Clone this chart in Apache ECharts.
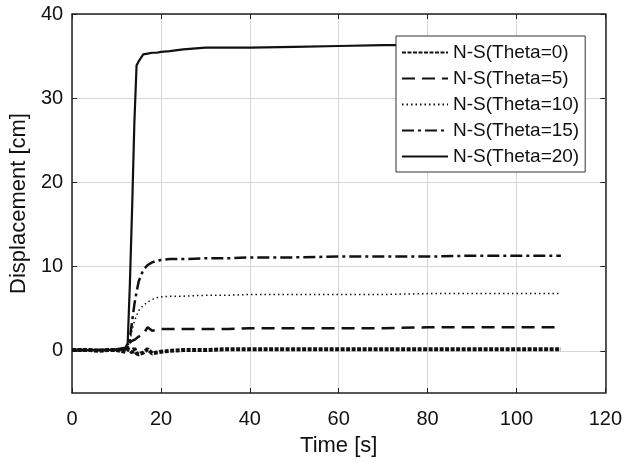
<!DOCTYPE html>
<html>
<head>
<meta charset="utf-8">
<script src="https://cdn.jsdelivr.net/npm/echarts@6/dist/echarts.min.js"></script>
<style>
html, body { margin: 0; padding: 0; background: #fff; }
#chart { width: 625px; height: 463px; }
</style>
</head>
<body>
<div id="chart"></div>
<script>
// time samples [s]
var time = [0, 2, 4, 6, 8, 10, 11, 12, 12.5, 13, 13.5, 14, 14.5, 15, 16, 17, 18, 19, 20, 22, 25, 30, 35, 40, 50, 60, 70, 80, 90, 100, 110];

// displacement [cm] per case
var theta0  = [0.1, 0.1, 0.1, 0.0, 0.1, 0.1, 0.0, -0.1, 0.2, 0.1, -0.2, 0.3, -0.3, -0.4, -0.2, 0.2, -0.3, -0.2, -0.1, 0.0, 0.1, 0.1, 0.2, 0.2, 0.2, 0.2, 0.2, 0.2, 0.2, 0.2, 0.2];
var theta5  = [0.1, 0.1, 0.1, 0.1, 0.1, 0.1, 0.2, 0.3, 0.6, 1.0, 1.2, 1.3, 1.5, 1.7, 2.0, 2.8, 2.4, 2.5, 2.6, 2.6, 2.6, 2.6, 2.6, 2.7, 2.7, 2.7, 2.7, 2.8, 2.8, 2.8, 2.8];
var theta10 = [0.1, 0.1, 0.1, 0.1, 0.1, 0.1, 0.1, 0.2, 0.5, 1.2, 2.5, 3.5, 4.2, 4.8, 5.4, 5.8, 6.1, 6.3, 6.4, 6.5, 6.5, 6.6, 6.6, 6.7, 6.7, 6.7, 6.7, 6.8, 6.8, 6.8, 6.8];
var theta15 = [0.1, 0.1, 0.1, 0.1, 0.1, 0.1, 0.1, 0.2, 0.4, 1.5, 3.5, 5.5, 7.0, 8.3, 9.6, 10.2, 10.5, 10.7, 10.8, 10.9, 10.9, 11.0, 11.0, 11.1, 11.1, 11.2, 11.2, 11.2, 11.3, 11.3, 11.3];
var theta20 = [0.1, 0.1, 0.1, 0.1, 0.1, 0.2, 0.3, 0.4, 0.9, 8.0, 17.0, 27.0, 33.9, 34.4, 35.2, 35.3, 35.4, 35.4, 35.5, 35.6, 35.8, 36.0, 36.0, 36.0, 36.1, 36.2, 36.3, 36.3, 36.3, 36.3, 36.3];

var names = ['N-S(Theta=0)', 'N-S(Theta=5)', 'N-S(Theta=10)', 'N-S(Theta=15)', 'N-S(Theta=20)'];
var yTicks = [0, 10, 20, 30, 40];

var font = 'Liberation Sans, Arial, Helvetica, sans-serif';
var ink = '#111';

function pairs(ys) {
    var out = [];
    for (var i = 0; i < time.length; i++) out.push([time[i], ys[i]]);
    return out;
}

function makeSeries(name, ys, width, dash) {
    return {
        name: name,
        type: 'line',
        data: pairs(ys),
        symbol: 'none',
        showSymbol: false,
        animation: false,
        lineStyle: { color: ink, width: width, type: dash },
        itemStyle: { color: ink }
    };
}

var myChart = echarts.init(document.getElementById('chart'));

var option = {
    backgroundColor: '#fff',
    animation: false,
    grid: { left: 69, right: 18, top: 14, bottom: 70 },
    legend: {
        data: names,
        orient: 'vertical',
        left: 396,
        top: 36,
        padding: [7, 6, 6, 5],
        itemWidth: 46,
        itemHeight: 14,
        itemGap: 7,
        itemStyle: { opacity: 0 },   // hide the marker, keep the line sample
        backgroundColor: '#fff',
        borderColor: '#333',
        borderWidth: 1,
        textStyle: { fontFamily: font, fontSize: 19, color: ink }
    },
    xAxis: [{
        type: 'value',
        min: 0, max: 120, interval: 20,
        name: 'Time [s]',
        nameLocation: 'middle',
        nameGap: 42,
        nameTextStyle: { fontFamily: font, fontSize: 22, color: ink },
        axisLine: { onZero: false, lineStyle: { color: '#222', width: 1.5 } },
        axisTick: { inside: true, length: 5, lineStyle: { color: '#222' } },
        axisLabel: { fontFamily: font, fontSize: 20, color: ink, margin: 16 },
        splitLine: { show: true, lineStyle: { color: '#d6d6d6', width: 1 } }
    }, {
        type: 'value', position: 'top',
        min: 0, max: 120, interval: 20,
        axisLine: { show: true, onZero: false, lineStyle: { color: '#222', width: 1.5 } },
        axisTick: { inside: true, length: 5, lineStyle: { color: '#222' } },
        axisLabel: { show: false },
        splitLine: { show: false }
    }],
    yAxis: [{
        type: 'value',
        min: -5, max: 40, interval: 5,
        name: 'Displacement [cm]',
        nameLocation: 'middle',
        nameGap: 42,
        nameTextStyle: { fontFamily: font, fontSize: 22, color: ink },
        axisLine: { show: true, onZero: false, lineStyle: { color: '#222', width: 1.5 } },
        axisTick: { show: true, inside: true, length: 5, customValues: yTicks, lineStyle: { color: '#222' } },
        axisLabel: { fontFamily: font, fontSize: 20, color: ink, margin: 9, customValues: yTicks },
        splitLine: { show: true, lineStyle: { color: '#d6d6d6', width: 1 } }
    }, {
        type: 'value', position: 'right',
        min: -5, max: 40, interval: 5,
        axisLine: { show: true, onZero: false, lineStyle: { color: '#222', width: 1.5 } },
        axisTick: { show: true, inside: true, length: 5, customValues: yTicks, lineStyle: { color: '#222' } },
        axisLabel: { show: false },
        splitLine: { show: false }
    }],
    series: [
        makeSeries(names[0], theta0, 4, [4, 1.5]),
        makeSeries(names[1], theta5, 2.5, [13, 7]),
        makeSeries(names[2], theta10, 1.5, [1.5, 3]),
        makeSeries(names[3], theta15, 2.5, [12, 4, 3, 4]),
        makeSeries(names[4], theta20, 2.2, 'solid')
    ]
};

myChart.setOption(option);

window.addEventListener('resize', function () {
    myChart.resize();
});
</script>
</body>
</html>
